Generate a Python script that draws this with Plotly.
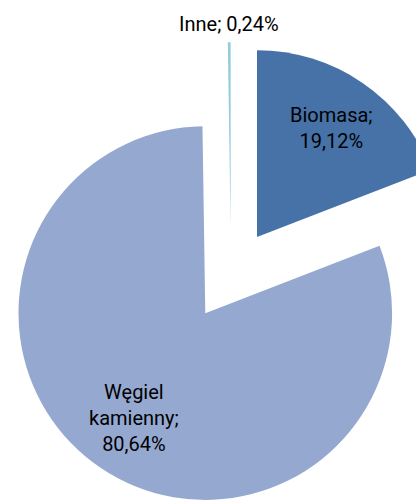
import math
import plotly.graph_objects as go

# ---- data ----
labels = ["Biomasa", "Węgiel kamienny", "Inne"]
values = [19.12, 80.64, 0.24]
label_lines = ["Biomasa;<br>", "Węgiel<br>kamienny;<br>", "Inne; "]
colors = ["#4672A8", "#95A9D0", "#93CCDA"]

# ---- layout constants ----
W, H = 450, 500
CX, CY = 231, 275      # un-exploded pie centre (px)
R = 186.8              # radius (px)
D = 46                 # explosion distance (px)
LABEL_R = [0.71, 0.68, None]   # inside label distance (fraction of R); None = outside
FONT = "Roboto, Arial, sans-serif"

def clamp(a):
    return min(1.0, max(0.0, a))

total = sum(values)
fig = go.Figure()
annotations = []
start = 0.0
for i, v in enumerate(values):
    span = v / total * 360.0
    mid = math.radians(start + span / 2)
    start += span
    dx, dy = math.sin(mid), -math.cos(mid)
    vx = CX + D * dx
    vy = CY + D * dy
    slice_colors = ["rgba(0,0,0,0)"] * len(values)
    slice_colors[i] = colors[i]
    fig.add_trace(go.Pie(
        labels=labels, values=values, sort=False, direction="clockwise", rotation=0,
        marker=dict(colors=slice_colors, line=dict(width=0)),
        textinfo="none",
        domain=dict(x=[clamp((vx - R) / W), clamp((vx + R) / W)],
                    y=[clamp(1 - (vy + R) / H), clamp(1 - (vy - R) / H)]),
        showlegend=False, hoverinfo="label+percent",
    ))
    pct = f"{v / total * 100:.2f}".replace(".", ",") + "%"
    k = LABEL_R[i] * R if LABEL_R[i] is not None else R + 18.5
    lx, ly = vx + k * dx, vy + k * dy
    annotations.append(dict(
        x=lx / W, y=1 - ly / H, xref="paper", yref="paper",
        xanchor="center", yanchor="middle", showarrow=False,
        text=label_lines[i] + pct, align="center",
        font=dict(family=FONT, size=20, color="black"),
    ))

fig.update_layout(
    width=W, height=H, margin=dict(l=0, r=0, t=0, b=0),
    paper_bgcolor="white", plot_bgcolor="white",
    annotations=annotations,
)
fig.write_html(
    "out.html",
    config={"displayModeBar": False},
    post_script="document.body.style.margin='0';document.body.style.overflow='hidden';",
)
